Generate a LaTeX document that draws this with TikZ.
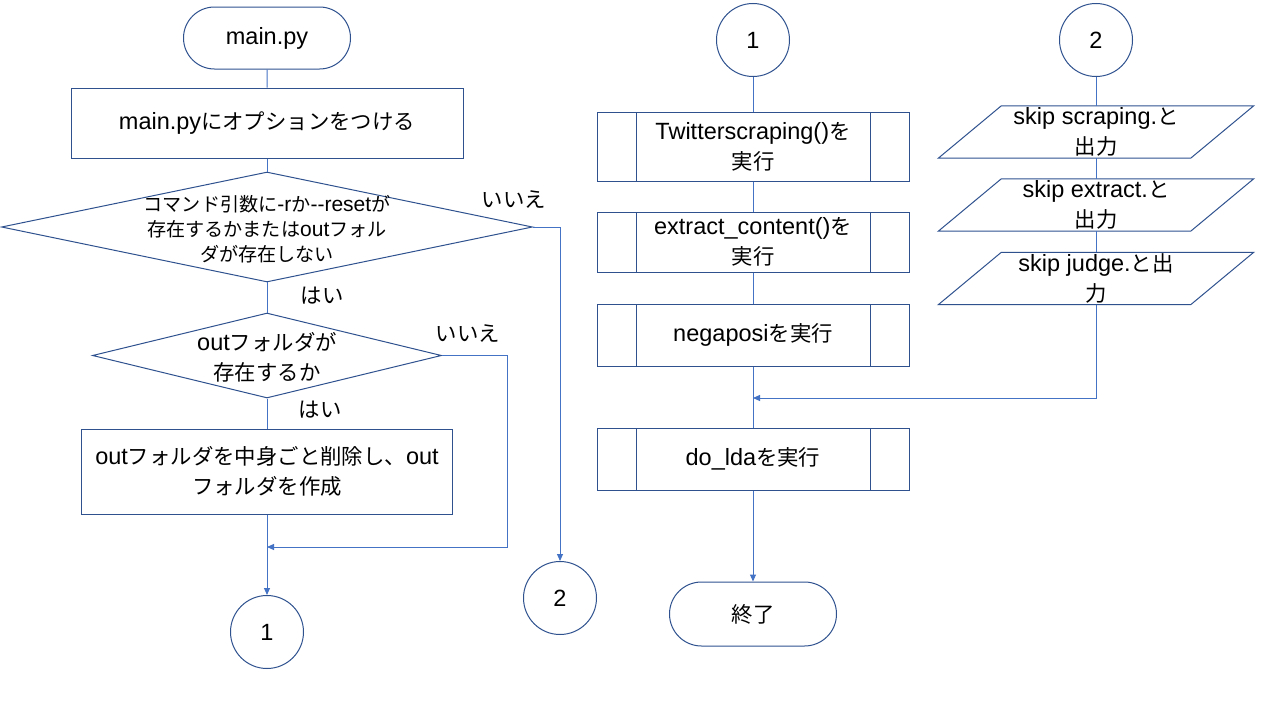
\documentclass[tikz,border=0pt]{standalone}
\usepackage{fontspec}
\setmainfont{Liberation Sans}
\newfontfamily\jpfont[Scale=0.91]{Noto Sans CJK JP}
\usetikzlibrary{shapes.geometric,shapes.misc,arrows.meta}

% kana and kanji go to the Japanese font
\XeTeXinterchartokenstate=1
\newXeTeXintercharclass\jpclass
\newcount\jpcnt
\newcommand\setjprange[2]{%
  \jpcnt=#1\relax
  \loop\ifnum\jpcnt<#2\relax
    \XeTeXcharclass\jpcnt=\jpclass
    \advance\jpcnt by 1
  \repeat}
\setjprange{"3000}{"3100}
\setjprange{"4E00}{"A000}
\setjprange{"FF00}{"FFF0}
\XeTeXinterchartoks 0 \jpclass={\jpfont}
\XeTeXinterchartoks 4095 \jpclass={\jpfont}
\XeTeXinterchartoks \jpclass 0={\rmfamily}
\XeTeXinterchartoks \jpclass 4095={\rmfamily}

\definecolor{outl}{HTML}{2F528F}
\definecolor{conn}{HTML}{4472C4}

\tikzset{
  flowline/.style={draw=conn,line width=1pt},
  flowarrow/.style={flowline,-{Triangle[length=7pt,width=6pt]}},
  shapeline/.style={draw=outl,line width=1pt},
  terminal/.style={shapeline,rounded rectangle,minimum width=167,minimum height=62,inner sep=0},
  process/.style={shapeline,rectangle,align=center,inner sep=0},
  decision/.style={shapeline,diamond,inner sep=0},
  predef/.style={shapeline,rectangle,minimum width=312,align=center,inner sep=0,
    path picture={
      \draw[outl,line width=1pt]
        ([xshift=39pt]path picture bounding box.north west) -- ([xshift=39pt]path picture bounding box.south west)
        ([xshift=-39pt]path picture bounding box.north east) -- ([xshift=-39pt]path picture bounding box.south east);}},
  ioshape/.style={minimum width=315,minimum height=52,inner sep=0,align=center},
  connector/.style={shapeline,circle,minimum size=73,inner sep=0}
}

\begin{document}
\begin{tikzpicture}[x=1pt,y=-1pt,font=\fontsize{23.5}{30}\selectfont]
\fill[white] (0,0) rectangle (1280,720);
\useasboundingbox (0,0) rectangle (1280,720);

% left column
\node[terminal] (start) at (267,38) {main.py};
\node[process,minimum width=392,minimum height=70] (opt) at (267,123) {main.pyにオプションをつける};
\node[decision,minimum width=531,minimum height=110] (chk1) at (267,227) {};
\node[font=\fontsize{21}{25}\selectfont,align=center] (chk1txt) at (267,229) {コマンド引数に-rか-{}-resetが\\存在するかまたはoutフォル\\ダが存在しない};
\node[decision,minimum width=349,minimum height=85] (chk2) at (267,355.5) {};
\node[align=center] (chk2txt) at (267,357) {outフォルダが\\存在するか};
\node[process,minimum width=371,minimum height=85] (del) at (267,471.5) {outフォルダを中身ごと削除し、out\\フォルダを作成};
\node[connector] (c1) at (267,632) {1};
\node[connector] (c2) at (560,598) {2};

\node (yes1) at (322,296) {はい};
\node (no1) at (514,200) {いいえ};
\node (no2) at (468,334) {いいえ};
\node (yes2) at (320,410) {はい};

\coordinate (join1) at (267,547);

\draw[flowline] (start) -- (opt);
\draw[flowline] (opt) -- (chk1);
\draw[flowline] (chk1) -- (chk2);
\draw[flowline] (chk2) -- (del);
\draw[flowarrow] (del) -- (c1);
\draw[flowarrow] (chk2.east) -- ++(65,0) |- (join1);
\draw[flowarrow] (chk1.east) -| (c2.north);

% right side
\node[connector] (r1) at (753,40) {1};
\node[predef,minimum height=69] (scrape) at (753,146.5) {Twitterscraping()を\\実行};
\node[predef,minimum height=60] (extract) at (753,242) {extract\_content()を\\実行};
\node[predef,minimum height=62] (nega) at (753,335) {negaposiを実行};
\node[predef,minimum height=62] (lda) at (753,459) {do\_ldaを実行};
\node[terminal,minimum height=64] (stop) at (753,614) {終了};

\node[connector] (r2) at (1096,40) {2};
\node[ioshape] (skip1) at (1096,132) {skip scraping.と\\出力};
\node[ioshape] (skip2) at (1096,205) {skip extract.と\\出力};
\node[ioshape] (skip3) at (1096,278.5) {skip judge.と出\\力};
\foreach \n in {skip1,skip2,skip3}
  \draw[shapeline] ([xshift=63pt]\n.north west) -- (\n.north east) -- ([xshift=-63pt]\n.south east) -- (\n.south west) -- cycle;

\coordinate (join2) at (753,398);

\draw[flowline] (r1) -- (scrape);
\draw[flowline] (scrape) -- (extract);
\draw[flowline] (extract) -- (nega);
\draw[flowline] (nega) -- (lda);
\draw[flowarrow] (lda) -- (stop);
\draw[flowline] (r2) -- (skip1);
\draw[flowline] (skip1) -- (skip2);
\draw[flowline] (skip2) -- (skip3);
\draw[flowarrow] (skip3.south) |- (join2);
\end{tikzpicture}
\end{document}
